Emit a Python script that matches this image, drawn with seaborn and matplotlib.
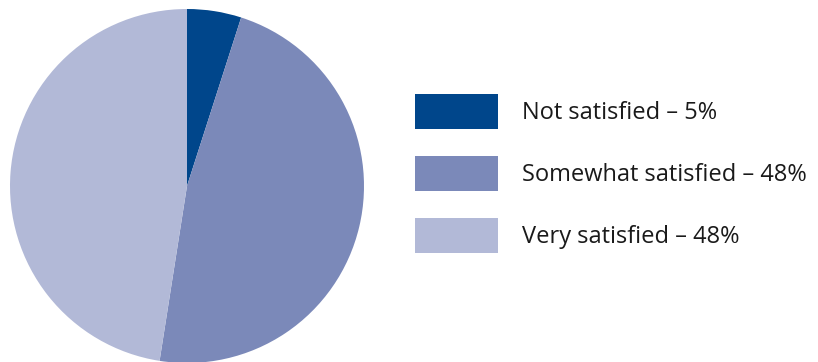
import matplotlib
matplotlib.use("Agg")
import matplotlib.pyplot as plt
import seaborn as sns
from matplotlib.patches import Patch

# Satisfaction survey shares
categories = ["Not satisfied", "Somewhat satisfied", "Very satisfied"]
shares = [5, 48, 48]
colors = ["#00468B", "#7B89B9", "#B2B9D7"]

sns.set_theme(style="white")
plt.rcParams["font.family"] = ["Open Sans", "DejaVu Sans"]

W, H = 818, 362
fig = plt.figure(figsize=(W / 100, H / 100), dpi=100)
fig.patch.set_facecolor("white")

# Pie area: centre (187, 186) px, radius 177 px
cx, cy, r = 187, 186, 177
ax = fig.add_axes([(cx - r) / W, (H - cy - r) / H, 2 * r / W, 2 * r / H])
wedges, _ = ax.pie(
    shares,
    colors=colors,
    startangle=90,
    counterclock=False,
    radius=1,
    wedgeprops=dict(linewidth=0, edgecolor="none", antialiased=True),
)
ax.set_xlim(-1, 1)
ax.set_ylim(-1, 1)
ax.set_aspect("equal")
ax.axis("off")

labels = [f"{c} \u2013 {v}%" for c, v in zip(categories, shares)]
handles = [Patch(facecolor=c, edgecolor="none") for c in colors]
fs = 17
fig.legend(
    handles,
    labels,
    loc="upper left",
    bbox_to_anchor=(415 / W, 1 - 94 / H),
    frameon=False,
    fontsize=fs,
    handlelength=3.52,
    handleheight=1.905,
    handletextpad=1.0,
    labelspacing=1.15,
    borderpad=0,
    borderaxespad=0,
    labelcolor="#1a1a1a",
)

fig.savefig("out.png", dpi=100, facecolor="white")
